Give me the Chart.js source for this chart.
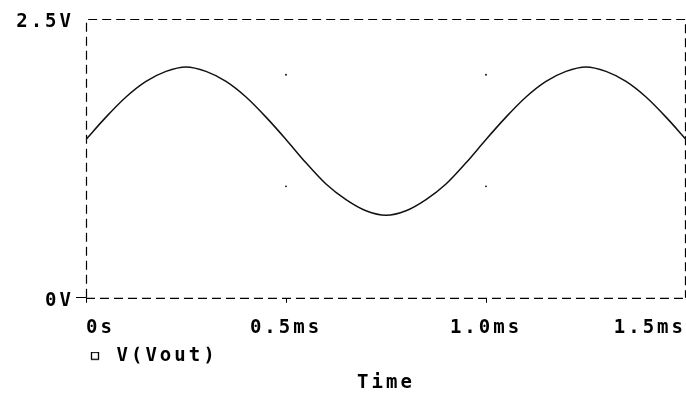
<!DOCTYPE html>
<html>
<head>
<meta charset="utf-8">
<script src="https://cdn.jsdelivr.net/npm/chart.js@4/dist/chart.umd.min.js"></script>
<style>
  html, body { margin: 0; padding: 0; background: #fff; }
  #wrap { width: 686px; height: 394px; }
</style>
</head>
<body>
<div id="wrap"><canvas id="c" width="686" height="394"></canvas></div>
<script>
// Data
const timeMs = [0,0.05,0.1,0.15,0.2,0.25,0.3,0.35,0.4,0.45,0.5,0.55,0.6,0.65,0.7,0.75,0.8,0.85,0.9,0.95,1.0,1.05,1.1,1.15,1.2,1.25,1.3,1.35,1.4,1.45,1.5];
const vout   = [1.42,1.62,1.80,1.94,2.03,2.07,2.03,1.94,1.80,1.62,1.42,1.21,1.02,0.88,0.78,0.74,0.78,0.88,1.02,1.21,1.42,1.62,1.80,1.94,2.03,2.07,2.03,1.94,1.80,1.62,1.42];
const seriesName = 'V(Vout)';
const xTickValues = [0, 0.5, 1.0, 1.5];
const xTickLabels = ['0s', '0.5ms', '1.0ms', '1.5ms'];
const yTickValues = [0, 2.5];
const yTickLabels = ['0V', '2.5V'];
const gridDotX = [0.5, 1.0];
const gridDotY = [1.0, 2.0];
const xTitle = 'Time';

const FAMILY = "'DejaVu Sans Mono', 'Liberation Mono', monospace";
const FONT = { family: FAMILY, size: 19, weight: 'bold', lineHeight: 1.2 };
const SPACING = '3px';

const lineData = timeMs.map((t, i) => ({ x: t, y: vout[i] }));
const dotData = [];
gridDotX.forEach(x => gridDotY.forEach(y => dotData.push({ x, y })));

// legend marker: small open square inside a slightly wider marker cell
const marker = document.createElement('canvas');
marker.width = 21; marker.height = 9;
(function () {
  const m = marker.getContext('2d');
  m.fillStyle = '#fff';
  m.fillRect(5, 0, 8, 8);
  m.strokeStyle = '#000';
  m.lineWidth = 1.3;
  m.strokeRect(5.5, 0.5, 7, 7);
})();

const spacingPlugin = {
  id: 'spacing',
  beforeUpdate(chart) { chart.ctx.letterSpacing = SPACING; },
  beforeLayout(chart) { chart.ctx.letterSpacing = SPACING; },
  beforeDraw(chart) { chart.ctx.letterSpacing = SPACING; }
};

const framePlugin = {
  id: 'frame',
  beforeDatasetsDraw(chart) {
    const { ctx, chartArea: a } = chart;
    ctx.save();
    ctx.strokeStyle = '#000';
    ctx.lineWidth = 1.2;
    ctx.setLineDash([9, 5]);
    ctx.beginPath();
    ctx.moveTo(a.left + 0.5, a.bottom);
    ctx.lineTo(a.left + 0.5, a.top + 0.5);
    ctx.lineTo(a.right - 0.5, a.top + 0.5);
    ctx.lineTo(a.right - 0.5, a.bottom);
    ctx.stroke();
    ctx.beginPath();
    ctx.moveTo(a.left, a.bottom + 0.5);
    ctx.lineTo(a.right, a.bottom + 0.5);
    ctx.stroke();
    ctx.restore();
  }
};

new Chart(document.getElementById('c'), {
  type: 'scatter',
  data: {
    datasets: [
      {
        label: seriesName,
        data: lineData,
        showLine: true,
        borderColor: '#111',
        backgroundColor: '#fff',
        borderWidth: 1.5,
        pointRadius: 0,
        pointHoverRadius: 0,
        tension: 0.4,
        cubicInterpolationMode: 'monotone'
      },
      {
        label: 'grid',
        data: dotData,
        showLine: false,
        pointRadius: 0.9,
        pointHoverRadius: 0.9,
        pointBorderWidth: 0,
        backgroundColor: '#000',
        borderColor: '#000'
      }
    ]
  },
  plugins: [spacingPlugin, framePlugin],
  options: {
    responsive: false,
    animation: false,
    events: [],
    layout: { autoPadding: false, padding: { top: 19, right: 0, bottom: 0, left: 0 } },
    font: FONT,
    plugins: {
      legend: {
        display: true,
        position: 'bottom',
        align: 'start',
        fullSize: false,
        labels: {
          filter: item => item.datasetIndex === 0,
          usePointStyle: true,
          pointStyle: marker,
          pointStyleWidth: 21,
          boxWidth: 21,
          boxHeight: 9,
          padding: 0,
          color: '#000',
          font: FONT
        }
      },
      title: {
        display: true,
        position: 'bottom',
        fullSize: false,
        text: xTitle,
        color: '#000',
        font: { family: FAMILY, size: 19, weight: 'bold', lineHeight: 0.8 },
        padding: { top: 0, bottom: 3 }
      },
      tooltip: { enabled: false }
    },
    scales: {
      x: {
        type: 'linear',
        min: 0,
        max: 1.5,
        border: { display: false },
        grid: {
          drawOnChartArea: false,
          drawTicks: true,
          tickLength: 5,
          tickColor: ctx => (ctx.tick && ctx.tick.value < 1.5) ? '#000' : 'rgba(0,0,0,0)'
        },
        afterBuildTicks: s => { s.ticks = xTickValues.map(v => ({ value: v })); },
        afterFit: s => { s.paddingRight = 0; s.paddingLeft = 0; s.height = 49; },
        ticks: {
          align: 'inner',
          padding: 14,
          maxRotation: 0,
          color: '#000',
          font: { family: FAMILY, size: 19, weight: 'bold', lineHeight: 1.16 },
          callback: (v) => xTickLabels[xTickValues.indexOf(v)]
        }
      },
      y: {
        type: 'linear',
        min: 0,
        max: 2.5,
        border: { display: false },
        grid: {
          drawOnChartArea: false,
          drawTicks: true,
          tickLength: 10,
          tickColor: ctx => (ctx.tick && ctx.tick.value === 0) ? '#000' : 'rgba(0,0,0,0)'
        },
        afterBuildTicks: s => { s.ticks = yTickValues.map(v => ({ value: v })); },
        afterFit: s => { s.width = 86; s.paddingTop = 0; s.paddingBottom = 0; },
        ticks: {
          padding: 2,
          labelOffset: 3,
          color: '#000',
          font: FONT,
          callback: (v) => yTickLabels[yTickValues.indexOf(v)]
        }
      }
    }
  }
});
</script>
</body>
</html>
